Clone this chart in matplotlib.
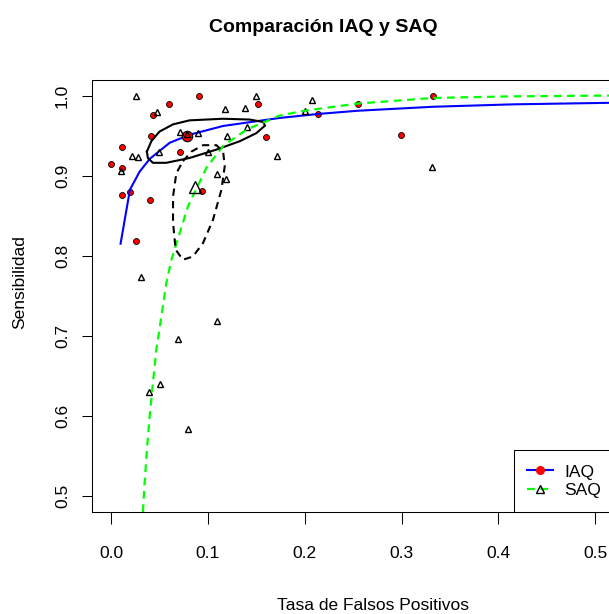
import numpy as np
import matplotlib.pyplot as plt
from matplotlib.lines import Line2D

plt.rcParams["font.family"] = ["Liberation Sans", "DejaVu Sans"]
plt.rcParams["font.size"] = 12.5

# estudios IAQ (tasa falsos positivos, sensibilidad)
iaq_fpr = [0.0905, 0.060, 0.043, 0.152, 0.0415, 0.160, 0.0715, 0.0109, 0.000, 0.0115,
           0.0195, 0.0115, 0.0405, 0.094, 0.0253, 0.214, 0.2546, 0.2997, 0.333]
iaq_sens = [1.000, 0.990, 0.976, 0.990, 0.950, 0.948, 0.929, 0.936, 0.914, 0.910,
            0.880, 0.876, 0.870, 0.881, 0.818, 0.9775, 0.989, 0.951, 1.000]

# estudios SAQ
saq_fpr = [0.0253, 0.150, 0.118, 0.138, 0.0708, 0.0788, 0.0898, 0.1198, 0.1404, 0.0494,
           0.0215, 0.028, 0.0101, 0.1005, 0.1094, 0.1187, 0.1718, 0.0312, 0.1098, 0.0695,
           0.0509, 0.0388, 0.0791, 0.208, 0.1998, 0.3317, 0.047]
saq_sens = [1.000, 1.000, 0.983, 0.985, 0.955, 0.952, 0.953, 0.950, 0.961, 0.929,
            0.924, 0.923, 0.906, 0.930, 0.902, 0.896, 0.924, 0.773, 0.719, 0.6955,
            0.640, 0.630, 0.584, 0.994, 0.981, 0.911, 0.979]

# puntos resumen
iaq_sum = (0.0788, 0.950)
saq_sum = (0.0867, 0.886)

# curvas SROC
iaq_curve_x = [0.0098, 0.0195, 0.0295, 0.040, 0.0605, 0.081, 0.1157, 0.174, 0.214, 0.2546,
               0.333, 0.4155, 0.52]
iaq_curve_y = [0.815, 0.8825, 0.905, 0.921, 0.941, 0.951, 0.962, 0.972, 0.977, 0.981,
               0.986, 0.989, 0.991]

saq_curve_x = [0.0329, 0.0346, 0.0370, 0.0398, 0.0432, 0.0467, 0.0519, 0.0571, 0.0623, 0.0708,
               0.0794, 0.0984, 0.1157, 0.14, 0.174, 0.1998, 0.2546, 0.333, 0.4155, 0.52]
saq_curve_y = [0.48, 0.516, 0.5575, 0.599, 0.641, 0.6825, 0.724, 0.766, 0.795, 0.828,
               0.8616, 0.9096, 0.937, 0.9575, 0.975, 0.981, 0.99, 0.997, 0.999, 1.0]

# regiones de confianza
iaq_ell_x = [0.0370, 0.0416, 0.050, 0.064, 0.081, 0.1156, 0.1432, 0.157, 0.159, 0.150,
             0.133, 0.1088, 0.081, 0.057, 0.0432, 0.038, 0.0370]
iaq_ell_y = [0.930, 0.943, 0.955, 0.964, 0.969, 0.971, 0.970, 0.967, 0.9625, 0.953,
             0.943, 0.9325, 0.922, 0.916, 0.916, 0.922, 0.930]

saq_ell_x = [0.0742, 0.083, 0.095, 0.1088, 0.1157, 0.1174, 0.114, 0.1053, 0.095, 0.0846,
             0.0742, 0.0667, 0.064, 0.064, 0.0674, 0.0742]
saq_ell_y = [0.918, 0.930, 0.938, 0.938, 0.930, 0.912, 0.8825, 0.845, 0.816, 0.799,
             0.795, 0.8075, 0.841, 0.874, 0.903, 0.918]

xticks = [0.0, 0.1, 0.2, 0.3, 0.4, 0.5]
yticks = [0.5, 0.6, 0.7, 0.8, 0.9, 1.0]

fig = plt.figure(figsize=(6.09, 6.14), dpi=100)
ax = fig.add_axes([0.1506, 0.1661, 0.8585, 0.7044])

# IAQ
ax.plot(iaq_fpr, iaq_sens, linestyle="none", marker="o", markersize=4.3,
        markerfacecolor="red", markeredgecolor="black", markeredgewidth=0.6)
ax.plot(iaq_curve_x, iaq_curve_y, color="blue", lw=1.5)
ax.plot(iaq_sum[0], iaq_sum[1], marker="o", markersize=7.5,
        markerfacecolor="red", markeredgecolor="black", markeredgewidth=0.8)
ax.plot(iaq_ell_x, iaq_ell_y, color="black", lw=1.5)

# SAQ
ax.plot(saq_fpr, saq_sens, linestyle="none", marker="^", markersize=5,
        markerfacecolor="none", markeredgecolor="black", markeredgewidth=1.0)
ax.plot(saq_curve_x, saq_curve_y, color="#00ff00", lw=1.6, linestyle=(0, (3.5, 2.5)))
ax.plot(saq_sum[0], saq_sum[1], marker="^", markersize=9,
        markerfacecolor="none", markeredgecolor="black", markeredgewidth=1.0)
ax.plot(saq_ell_x, saq_ell_y, color="black", lw=1.5, linestyle=(0, (3.5, 2.5)))

ax.set_xlim(-0.02, 0.52)
ax.set_ylim(0.48, 1.02)
ax.set_xticks(xticks)
ax.set_xticklabels(["%.1f" % v for v in xticks])
ax.set_yticks(yticks)
ax.set_yticklabels(["%.1f" % v for v in yticks], rotation=90, va="center")
ax.tick_params(axis="x", direction="out", length=8.5, width=0.75, pad=16)
ax.tick_params(axis="y", direction="out", length=7.2, width=0.75, pad=8.5)
for sp in ax.spines.values():
    sp.set_linewidth(0.75)

handles = [Line2D([], [], color="blue", lw=1.5, marker="o", markersize=5.5,
                  markerfacecolor="red", markeredgecolor="red"),
           Line2D([], [], color="#00ff00", lw=1.6, linestyle=(0, (3.5, 2.5)), marker="^",
                  markersize=6, markerfacecolor="none", markeredgecolor="black")]
leg = ax.legend(handles, ["IAQ", "SAQ"], loc="lower right", borderaxespad=0,
                fancybox=False, edgecolor="black", framealpha=1, fontsize=12.5,
                handlelength=1.45, handletextpad=0.65, labelspacing=0.2, borderpad=0.8)
leg.get_frame().set_linewidth(0.75)

fig.text(0.531, 0.948, "Comparación IAQ y SAQ", ha="center", va="baseline",
         fontsize=14, fontweight="bold")
fig.text(0.6125, 0.007, "Tasa de Falsos Positivos", ha="center", va="baseline")
fig.text(0.033, 0.54, "Sensibilidad", ha="center", va="center", rotation=90)

fig.savefig("out.png", dpi=100)
